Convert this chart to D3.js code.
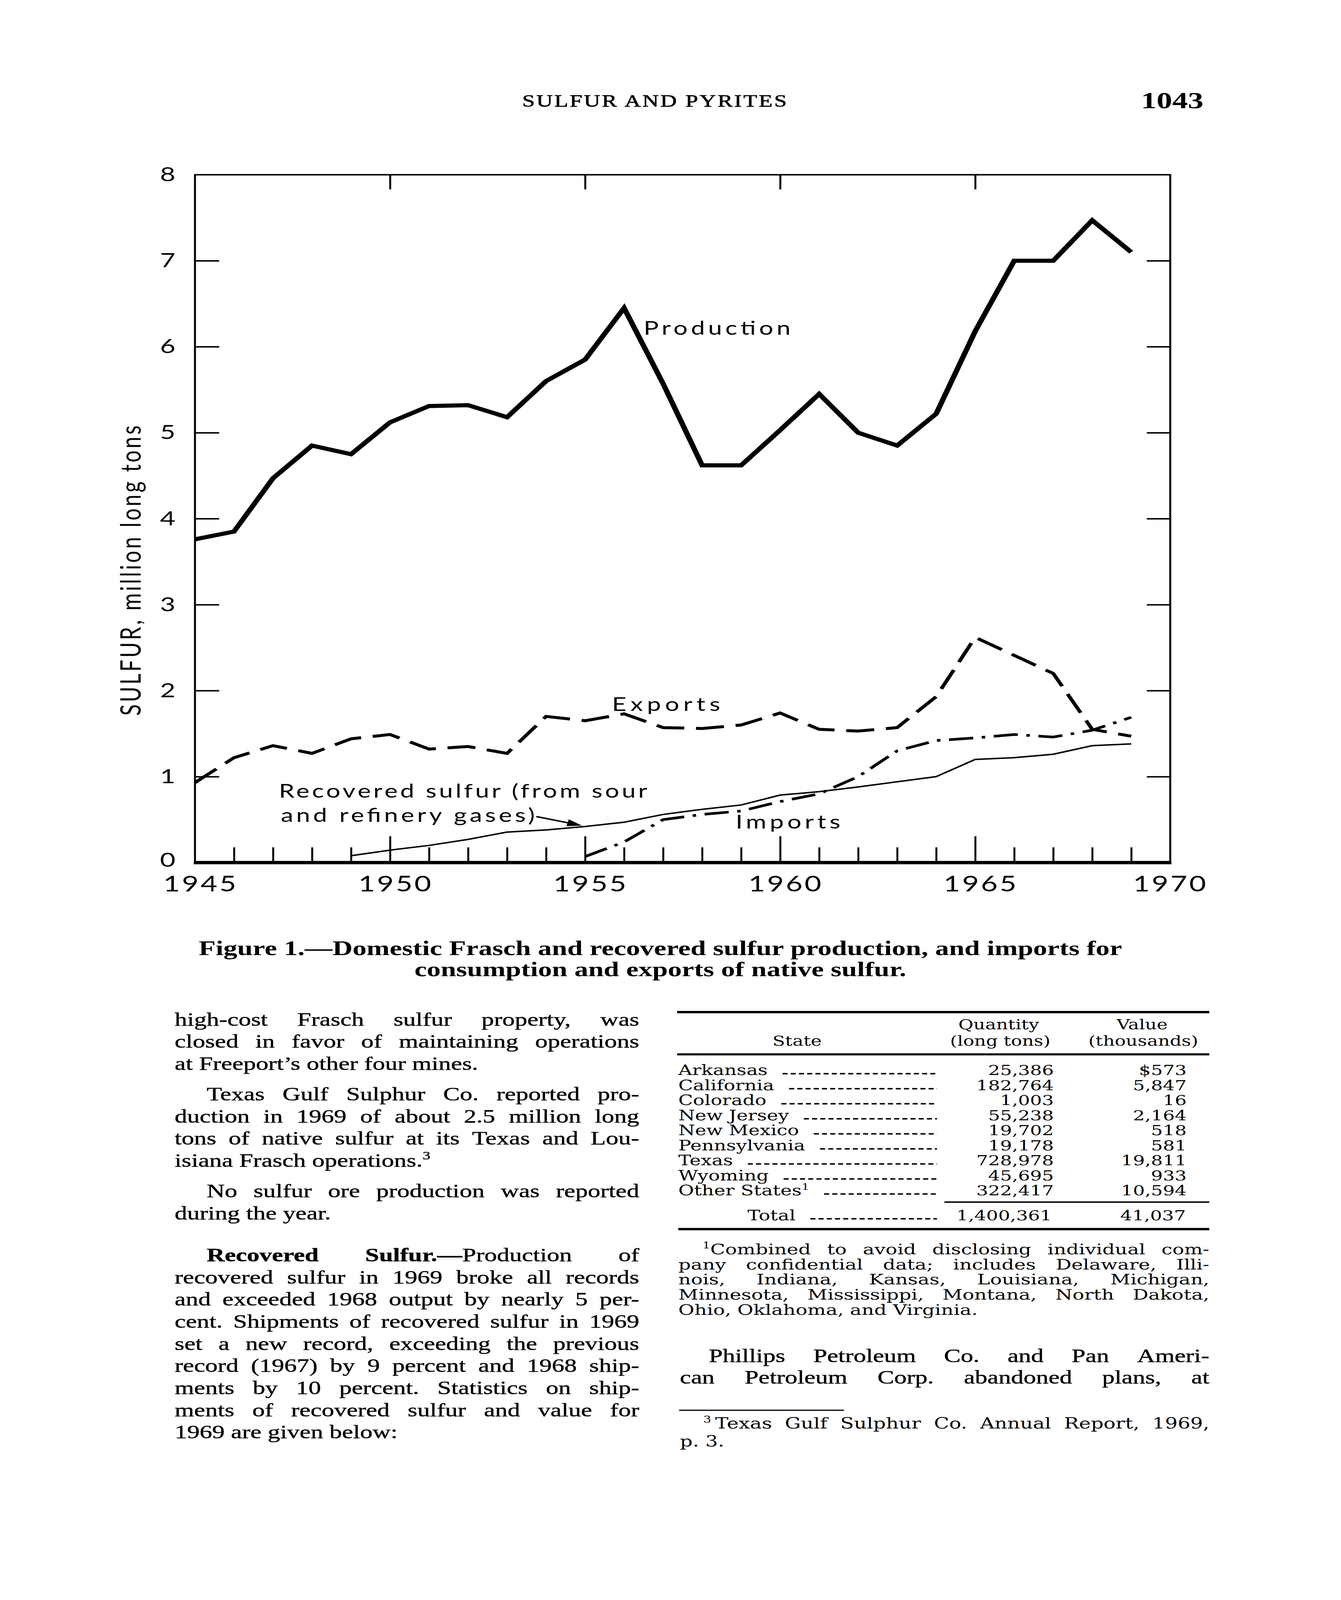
<!DOCTYPE html>
<html>
<head>
<meta charset="utf-8">
<title>Sulfur and pyrites, figure 1</title>
<script src="https://cdn.jsdelivr.net/npm/d3@7/dist/d3.min.js"></script>
<style>
  html, body { margin: 0; padding: 0; background: #fff; overflow: hidden; }
  svg { display: block; }
  .chart text { font-family: Lato, "DejaVu Sans", sans-serif; fill: #000; }
  .serif text { font-family: "Liberation Serif", "Times New Roman", serif; fill: #000; }
  .small text { font-family: "DejaVu Serif", serif; fill: #000; }
</style>
</head>
<body>
<svg id="page"></svg>
<script>
// ---- chart values, million long tons
const years = d3.range(1945, 1970);
const production = [3.76, 3.85, 4.47, 4.85, 4.75, 5.12, 5.31, 5.32, 5.18, 5.60, 5.85, 6.45, 5.57,
                    4.62, 4.62, 5.03, 5.45, 5.00, 4.85, 5.22, 6.18, 7.00, 7.00, 7.47, 7.10];
const exportsNative = [0.93, 1.22, 1.36, 1.27, 1.44, 1.49, 1.32, 1.35, 1.27, 1.70, 1.65, 1.73, 1.57,
                       1.56, 1.60, 1.74, 1.55, 1.53, 1.57, 1.93, 2.62, 2.41, 2.20, 1.55, 1.47];
const importYears = d3.range(1955, 1970);
const imports = [0.07, 0.24, 0.50, 0.56, 0.60, 0.71, 0.80, 1.00, 1.30, 1.42, 1.45, 1.49, 1.46, 1.54, 1.69];
const recoveredYears = d3.range(1949, 1970);
const recovered = [0.08, 0.145, 0.20, 0.27, 0.355, 0.38, 0.42, 0.47, 0.56, 0.62, 0.67, 0.785, 0.825,
                   0.88, 0.94, 1.00, 1.20, 1.22, 1.26, 1.36, 1.38];

const yTickValues = d3.range(0, 9);
const yInnerTicks = d3.range(1, 8);
const xLabelYears = [1945, 1950, 1955, 1960, 1965, 1970];
const xMajorYears = [1950, 1955, 1960, 1965];
const xMinorYears = d3.range(1946, 1970).filter(d => d % 5 !== 0);

// ---- table of recovered sulfur shipments
const tableStates = ["Arkansas", "California", "Colorado", "New Jersey", "New Mexico",
                     "Pennsylvania", "Texas", "Wyoming", "Other States^1^"];
const tableQuantity = ["25,386", "182,764", "1,003", "55,238", "19,702", "19,178", "728,978", "45,695", "322,417"];
const tableValue = ["$573", "5,847", "16", "2,164", "518", "581", "19,811", "933", "10,594"];
const tableTotal = ["1,400,361", "41,037"];

// ---- page text
const leftParagraphs = [
  {indent: false, lines: ["high-cost Frasch sulfur property, was",
                          "closed in favor of maintaining operations",
                          "at Freeport\u2019s other four mines."]},
  {indent: true, lines: ["Texas Gulf Sulphur Co. reported pro-",
                         "duction in 1969 of about 2.5 million long",
                         "tons of native sulfur at its Texas and Lou-",
                         "isiana Frasch operations.^3^"]},
  {indent: true, lines: ["No sulfur ore production was reported",
                         "during the year."]},
  {indent: true, heading: true, lines: ["*Recovered* *Sulfur.\u2014*Production of",
                         "recovered sulfur in 1969 broke all records",
                         "and exceeded 1968 output by nearly 5 per-",
                         "cent. Shipments of recovered sulfur in 1969",
                         "set a new record, exceeding the previous",
                         "record (1967) by 9 percent and 1968 ship-",
                         "ments by 10 percent. Statistics on ship-",
                         "ments of recovered sulfur and value for",
                         "1969 are given below:"]}
];
const footnote1 = ["^1^Combined to avoid disclosing individual com-",
                   "pany confidential data; includes Delaware, Illi-",
                   "nois, Indiana, Kansas, Louisiana, Michigan,",
                   "Minnesota, Mississippi, Montana, North Dakota,",
                   "Ohio, Oklahoma, and Virginia."];
const rightParagraph = ["Phillips Petroleum Co. and Pan Ameri-",
                        "can Petroleum Corp. abandoned plans, at"];
const footnote3 = ["^3^\u2009Texas Gulf Sulphur Co. Annual Report, 1969,", "p. 3."];
const captionLines = ["Figure 1.\u2014Domestic Frasch and recovered sulfur production, and imports for",
                      "consumption and exports of native sulfur."];

// the page is laid out in 3432 x 5457 units and mapped onto whatever window we get
const W = 3432, H = 5457;
const vw = window.innerWidth || W, vh = window.innerHeight || H;
const svg = d3.select("#page").attr("width", vw).attr("height", vh)
  .attr("viewBox", `0 0 ${W} ${H}`).attr("preserveAspectRatio", "none");
svg.append("rect").attr("width", W).attr("height", H).attr("fill", "#fff");

// text helpers: *bold* and ^superscript^ markup
function rich(parent, str, x, y, size) {
  const t = parent.append("text").attr("x", x).attr("y", y).attr("font-size", size);
  let bold = false, sup = false, buf = "", shift = 0;
  const flush = () => {
    if (!buf) return;
    const ts = t.append("tspan").text(buf);
    if (bold) ts.attr("font-weight", "bold");
    const target = sup ? -0.4 * size : 0;
    if (target !== shift) { ts.attr("dy", target - shift); shift = target; }
    if (sup) ts.attr("font-size", size * 0.62);
    buf = "";
  };
  for (const ch of str) {
    if (ch === "*") { flush(); bold = !bold; }
    else if (ch === "^") { flush(); sup = !sup; }
    else buf += ch;
  }
  flush();
  return t;
}

function setLine(parent, str, x0, x1, y, size, justify) {
  if (!justify) return rich(parent, str, x0, y, size);
  const words = str.split(" ");
  const nodes = words.map(w => rich(parent, w, 0, y, size));
  const widths = nodes.map(n => n.node().getComputedTextLength());
  const gap = words.length > 1 ? (x1 - x0 - d3.sum(widths)) / (words.length - 1) : 0;
  let cx = x0;
  nodes.forEach((n, i) => { n.attr("x", cx); cx += widths[i] + gap; });
}

// ---- running head
const head = svg.append("g").attr("class", "serif");
head.append("text").attr("x", 1677).attr("y", 364).attr("text-anchor", "middle")
  .attr("font-size", 58).attr("letter-spacing", 4).attr("stroke", "#000").attr("stroke-width", 1.2)
  .text("SULFUR AND PYRITES");
head.append("text").attr("x", 3080).attr("y", 369).attr("text-anchor", "end")
  .attr("font-size", 80).attr("font-weight", "bold").text("1043");

// ---- chart
const x = d3.scaleLinear().domain([1945, 1970]).range([499, 2995]);
const y = d3.scaleLinear().domain([0, 8]).range([2942, 596]);
const chart = svg.append("g").attr("class", "chart");

chart.append("path")
  .attr("d", `M${x(1945)},${y(0)}V${y(8)}H${x(1970)}V${y(0)}`)
  .attr("fill", "none").attr("stroke", "#000").attr("stroke-width", 5);

function styleAxis(g, width) {
  g.select(".domain").remove();
  g.selectAll(".tick line").attr("stroke", "#000").attr("stroke-width", width);
}

chart.append("g").attr("transform", `translate(${x(1945)},0)`)
  .call(d3.axisLeft(y).tickValues(yInnerTicks).tickSize(-62).tickFormat(""))
  .call(g => styleAxis(g, 5));
chart.append("g").attr("transform", `translate(${x(1970)},0)`)
  .call(d3.axisRight(y).tickValues(yInnerTicks).tickSize(-60).tickFormat(""))
  .call(g => styleAxis(g, 5));
chart.append("g").attr("transform", `translate(0,${y(8)})`)
  .call(d3.axisTop(x).tickValues(xMajorYears).tickSize(-50).tickFormat(""))
  .call(g => styleAxis(g, 5));
chart.append("g").attr("transform", `translate(0,${y(0)})`)
  .call(d3.axisBottom(x).tickValues(xMinorYears).tickSize(-52).tickFormat(""))
  .call(g => styleAxis(g, 5));
chart.append("g").attr("transform", `translate(0,${y(0)})`)
  .call(d3.axisBottom(x).tickValues(xMajorYears).tickSize(-90).tickFormat(""))
  .call(g => styleAxis(g, 5));

chart.append("line")
  .attr("x1", x(1945) - 3).attr("x2", x(1970) + 3)
  .attr("y1", y(0)).attr("y2", y(0))
  .attr("stroke", "#000").attr("stroke-width", 11);

// tick labels
const yLab = chart.append("g").attr("transform", `translate(${x(1945)},0)`)
  .call(d3.axisLeft(y).tickValues(yTickValues).tickSize(0).tickPadding(50).tickFormat(d3.format("d")));
yLab.select(".domain").remove();
yLab.selectAll("text").attr("font-size", 68).attr("font-family", "Lato").attr("fill", "#000")
  .attr("dy", d => d === 0 ? "0.2em" : "0.32em");

const xLab = chart.append("g").attr("transform", `translate(0,${y(0)})`)
  .call(d3.axisBottom(x).tickValues(xLabelYears).tickSize(0).tickPadding(46).tickFormat(d3.format("d")));
xLab.select(".domain").remove();
xLab.selectAll("text").attr("font-size", 74).attr("font-family", "Lato").attr("fill", "#000")
  .attr("letter-spacing", 5).attr("dx", d => d === 1970 ? 0 : 14);

chart.append("text")
  .attr("transform", "translate(360,1946) rotate(-90)")
  .attr("text-anchor", "middle").attr("font-size", 72)
  .attr("textLength", 990).attr("lengthAdjust", "spacing")
  .text("SULFUR, million long tons");

// series
const line = d3.line().x(d => x(d[0])).y(d => y(d[1]));
chart.append("path").datum(d3.zip(years, production)).attr("d", line)
  .attr("fill", "none").attr("stroke", "#000").attr("stroke-width", 14)
  .attr("stroke-linejoin", "miter");
chart.append("path").datum(d3.zip(years, exportsNative)).attr("d", line)
  .attr("fill", "none").attr("stroke", "#000").attr("stroke-width", 10)
  .attr("stroke-dasharray", "72 30");
chart.append("path").datum(d3.zip(importYears, imports)).attr("d", line)
  .attr("fill", "none").attr("stroke", "#000").attr("stroke-width", 9)
  .attr("stroke-dasharray", "62 22 9 22");
chart.append("path").datum(d3.zip(recoveredYears, recovered)).attr("d", line)
  .attr("fill", "none").attr("stroke", "#000").attr("stroke-width", 5);

// series labels
function label(str, yr, v, len) {
  return chart.append("text").attr("x", x(yr)).attr("y", y(v)).attr("font-size", 64)
    .attr("textLength", len).attr("lengthAdjust", "spacing").text(str);
}
label("Production", 1956.5, 6.14, 376);
label("Exports", 1955.69, 1.766, 277);
label("Imports", 1958.86, 0.396, 268);
label("Recovered sulfur  (from sour", 1947.15, 0.757, 943);
const gases = label("and refinery gases)", 1947.2, 0.474, 650);

// arrow from the label to the recovered sulfur line
const gb = gases.node().getBBox();
const tipX = x(1955) - 8, tipY = y(recovered[recoveredYears.indexOf(1955)]) - 3;
const sx = gb.x + gb.width + 4, sy = y(0.474) - 18;
const ang = Math.atan2(tipY - sy, tipX - sx);
chart.append("line").attr("x1", sx).attr("y1", sy)
  .attr("x2", tipX - 30 * Math.cos(ang)).attr("y2", tipY - 30 * Math.sin(ang))
  .attr("stroke", "#000").attr("stroke-width", 5);
const hw = 12, hl = 38;
chart.append("path")
  .attr("d", `M${tipX},${tipY}` +
    `L${tipX - hl * Math.cos(ang) + hw * Math.sin(ang)},${tipY - hl * Math.sin(ang) - hw * Math.cos(ang)}` +
    `L${tipX - hl * Math.cos(ang) - hw * Math.sin(ang)},${tipY - hl * Math.sin(ang) + hw * Math.cos(ang)}Z`)
  .attr("fill", "#000");

// ---- caption
const cap = svg.append("g").attr("class", "serif");
const c1 = cap.append("text").attr("x", 1690).attr("y", 3257).attr("text-anchor", "middle")
  .attr("font-weight", "bold").attr("font-size", 60).text(captionLines[0]);
const capSize = 60 * 2363 / c1.node().getComputedTextLength();
c1.attr("font-size", capSize);
cap.append("text").attr("x", 1690).attr("y", 3329).attr("text-anchor", "middle")
  .attr("font-weight", "bold").attr("font-size", capSize).text(captionLines[1]);

// ---- left column
const body = svg.append("g").attr("class", "serif").attr("stroke", "#000").attr("stroke-width", 0.8);
const L0 = 447, L1 = 1636, indent = 82, lead = 75.5;
let yb = 3498;
leftParagraphs.forEach((p, pi) => {
  if (pi > 0) yb += p.heading ? 143 : 104;
  p.lines.forEach((s, li) => {
    const last = li === p.lines.length - 1;
    const x0 = (li === 0 && p.indent) ? L0 + indent : L0;
    setLine(body, s, x0, L1, yb, 64, !last);
    if (!last) yb += lead;
  });
});

// ---- right column: table
const R0 = 1736, R1 = 3095;
const tbl = svg.append("g").attr("class", "small");
const rule = (x1, x2, yy, w) => tbl.append("line").attr("x1", x1).attr("x2", x2)
  .attr("y1", yy).attr("y2", yy).attr("stroke", "#000").attr("stroke-width", w);
rule(R0 - 3, R1, 3452, 8);
rule(R0 - 3, R1, 3596, 7);
rule(2417, R1, 4100, 5);
rule(R0, R1, 4192, 8);

const hdr = [["Quantity", 2556, 3511], ["Value", 2923, 3511], ["State", 2040, 3566],
             ["(long tons)", 2560, 3566], ["(thousands)", 2926, 3566]];
hdr.forEach(h => tbl.append("text").attr("x", h[1]).attr("y", h[2]).attr("text-anchor", "middle")
  .attr("font-size", 47).text(h[0]));

const rowY = d3.scaleLinear().domain([0, 1]).range([3667, 3718.3]);
const leaderEnd = 2398;
function leader(x1, yy) {
  tbl.append("line").attr("x1", x1).attr("x2", leaderEnd).attr("y1", yy - 5).attr("y2", yy - 5)
    .attr("stroke", "#000").attr("stroke-width", 5).attr("stroke-dasharray", "13 8");
}
tableStates.forEach((s, i) => {
  const yy = rowY(i);
  const t = rich(tbl, s, R0, yy, 49);
  leader(R0 + t.node().getComputedTextLength() + 38, yy);
  tbl.append("text").attr("x", 2697).attr("y", yy).attr("text-anchor", "end").attr("font-size", 48).text(tableQuantity[i]);
  tbl.append("text").attr("x", 3037).attr("y", yy).attr("text-anchor", "end").attr("font-size", 48).text(tableValue[i]);
});
const tot = tbl.append("text").attr("x", 1913).attr("y", 4162).attr("font-size", 49).text("Total");
leader(1913 + tot.node().getComputedTextLength() + 38, 4162);
tbl.append("text").attr("x", 2692).attr("y", 4162).attr("text-anchor", "end").attr("font-size", 48).text(tableTotal[0]);
tbl.append("text").attr("x", 3035).attr("y", 4162).attr("text-anchor", "end").attr("font-size", 48).text(tableTotal[1]);

// footnote to the table
footnote1.forEach((s, i) => {
  const last = i === footnote1.length - 1;
  setLine(tbl, s, i === 0 ? R0 + 62 : R0, R1, 4278 + i * 51.5, 50, !last);
});

// right column paragraph
rightParagraph.forEach((s, i) => {
  setLine(body, s, i === 0 ? R0 + 78 : R0 + 4, R1, 4645 + i * 74, 64, true);
});

// page footnote
tbl.append("line").attr("x1", R0 + 2).attr("x2", 2160).attr("y1", 4810).attr("y2", 4810)
  .attr("stroke", "#000").attr("stroke-width", 4);
setLine(tbl, footnote3[0], R0 + 64, R1, 4872, 51, true);
setLine(tbl, footnote3[1], R0 + 4, R1, 4934, 51, false);
</script>
</body>
</html>
